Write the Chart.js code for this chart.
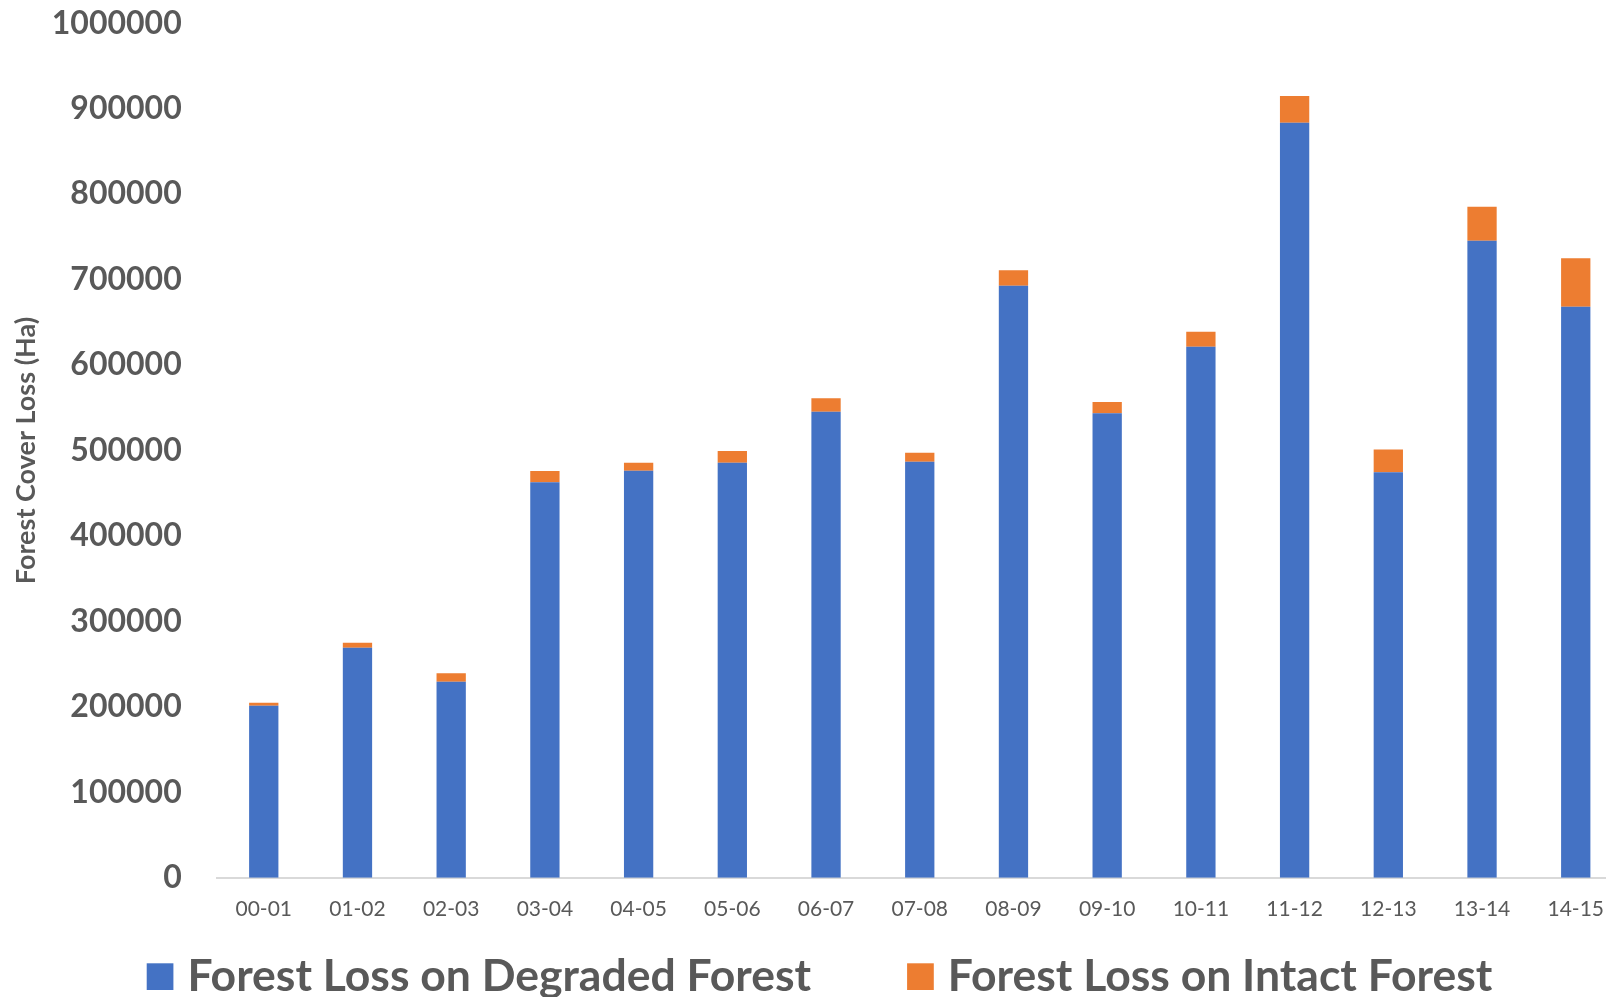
<!DOCTYPE html>
<html>
<head>
<meta charset="utf-8">
<title>Forest Cover Loss</title>
<script src="https://cdn.jsdelivr.net/npm/chart.js@4/dist/chart.umd.min.js"></script>
<style>
  html, body { margin: 0; padding: 0; background: #ffffff; overflow: hidden; width: 1606px; height: 997px; }
  canvas { display: block; }
</style>
</head>
<body>
<canvas id="chart" width="1640" height="997"></canvas>
<script>
// Seasons (fiscal years) on the category axis
const seasons = ['00-01', '01-02', '02-03', '03-04', '04-05', '05-06', '06-07', '07-08',
                 '08-09', '09-10', '10-11', '11-12', '12-13', '13-14', '14-15'];

// Forest cover loss in hectares, per season
const degradedLoss = [201300, 269200, 229400, 462800, 476300, 485700, 545400, 486900,
                      692900, 543500, 621500, 883700, 474600, 745600, 668300];
const intactLoss   = [3500, 5800, 9800, 13200, 9400, 13700, 15700, 10500,
                      18000, 13300, 17500, 31200, 26500, 39700, 56700];

// Value-axis tick marks
const yTicks = [0, 100000, 200000, 300000, 400000, 500000, 600000, 700000, 800000, 900000, 1000000];

const seriesNames = ['Forest Loss on Degraded Forest', 'Forest Loss on Intact Forest'];
const seriesColors = ['#4472C4', '#ED7D31'];

const TEXT = '#595959';
const FONT = 'Lato, "Open Sans", sans-serif';

// Legend row under the chart: square swatch, label, wide spacing between entries
const bottomLegend = {
  id: 'bottomLegend',
  afterDraw(chart, args, opts) {
    const ctx = chart.ctx;
    ctx.save();
    ctx.font = `bold ${opts.fontSize}px ${FONT}`;
    const items = chart.data.datasets.map(ds => ({
      text: ds.label,
      color: ds.backgroundColor,
      w: ctx.measureText(ds.label).width
    }));
    const total = items.reduce((s, it) => s + opts.box + opts.gap + it.w, 0) + opts.spacing * (items.length - 1);
    let x = opts.centerX - total / 2;
    ctx.textAlign = 'left';
    ctx.textBaseline = 'alphabetic';
    items.forEach(it => {
      ctx.fillStyle = it.color;
      ctx.fillRect(x, opts.boxTop, opts.box, opts.box);
      x += opts.box + opts.gap;
      ctx.fillStyle = TEXT;
      ctx.fillText(it.text, x, opts.baseline);
      x += it.w + opts.spacing;
    });
    ctx.restore();
  }
};

function build() {
  new Chart(document.getElementById('chart'), {
    type: 'bar',
    data: {
      labels: seasons,
      datasets: [
        { label: seriesNames[0], data: degradedLoss, backgroundColor: seriesColors[0] },
        { label: seriesNames[1], data: intactLoss, backgroundColor: seriesColors[1] }
      ]
    },
    options: {
      responsive: false,
      animation: false,
      devicePixelRatio: 1,
      layout: { padding: { top: 23.3, right: 17.4, left: 0, bottom: 0 } },
      datasets: { bar: { barPercentage: 0.3127, categoryPercentage: 1.0, borderWidth: 0 } },
      plugins: {
        legend: { display: false },
        tooltip: { enabled: false },
        bottomLegend: {
          fontSize: 44.5, box: 26.7, gap: 14, spacing: 96,
          centerX: 819.5, boxTop: 963.3, baseline: 991
        }
      },
      scales: {
        x: {
          stacked: true,
          grid: { display: false, drawTicks: false },
          border: { display: true, color: '#d9d9d9', width: 2 },
          ticks: { color: TEXT, font: { family: FONT, size: 21 }, padding: 19, maxRotation: 0, autoSkip: false },
          afterFit(scale) { scale.height = 119.3; }
        },
        y: {
          stacked: true,
          min: 0,
          max: 1000000,
          grid: { display: false, drawTicks: false },
          border: { display: false },
          afterBuildTicks(scale) { scale.ticks = yTicks.map(v => ({ value: v })); },
          ticks: {
            color: TEXT,
            font: { family: FONT, size: 32, weight: 'bold' },
            padding: 35.2,
            callback: v => String(v)
          },
          title: {
            display: true,
            text: 'Forest Cover Loss (Ha)',
            color: TEXT,
            font: { family: FONT, size: 27, weight: 'bold' },
            padding: { top: 10, bottom: 0 }
          },
          afterFit(scale) {
            scale.width = 216.9;
            scale.paddingTop = 0;
            scale.paddingBottom = 0;
          }
        }
      }
    },
    plugins: [bottomLegend]
  });
}

const fontLoads = document.fonts
  ? Promise.all(['bold 44px Lato', 'bold 32px Lato', '21px Lato'].map(f => document.fonts.load(f))).catch(() => {})
  : Promise.resolve();
fontLoads.then(build, build);
</script>
</body>
</html>
